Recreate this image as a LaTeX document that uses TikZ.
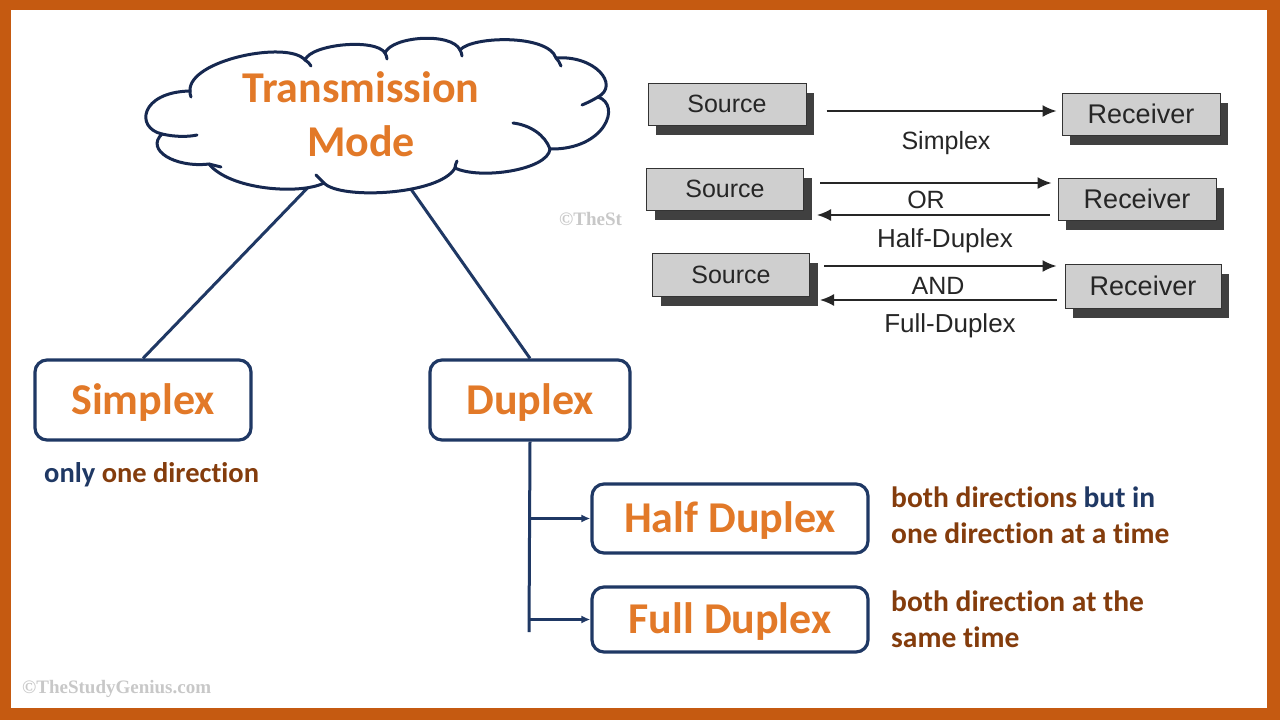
\documentclass[tikz,border=0pt]{standalone}
\usepackage{fontspec}
\setmainfont{Carlito}[Ligatures=NoCommon]
\newfontfamily\scanfont{Liberation Sans}
\newfontfamily\wmfont{Liberation Serif}
\usetikzlibrary{arrows.meta,shadows,calc}
\definecolor{framec}{RGB}{197,90,17}
\definecolor{navy}{RGB}{31,56,100}
\definecolor{cloudc}{RGB}{22,40,80}
\definecolor{orng}{RGB}{226,121,40}
\definecolor{brn}{RGB}{132,60,12}
\definecolor{wmc}{RGB}{200,200,200}
\tikzset{
  navyline/.style={draw=navy, line width=3pt},
  cloudline/.style={draw=cloudc, line width=3pt, line cap=round, line join=round},
  mbox/.style={draw=navy, line width=3.2pt, rounded corners=12pt, fill=white,
    font=\bfseries\fontsize{44}{52}\selectfont, text=orng, inner sep=0pt,
    text height=31pt, text depth=2.6pt},
  descr/.style={font=\bfseries\fontsize{29.5}{36}\selectfont, text=brn, align=left, anchor=west, inner sep=0pt},
  scanbox/.style={draw=black!80, line width=1pt, fill=black!19,
    font=\scanfont\fontsize{25}{30}\selectfont, text=black!85, inner sep=0pt,
    drop shadow={shadow xshift=8pt, shadow yshift=-10pt, fill=black!75, opacity=1}},
  scanlbl/.style={font=\scanfont\fontsize{25}{30}\selectfont, text=black!85, inner sep=0pt},
  sarrow/.style={draw=black!85, line width=1.8pt, -{Latex[length=14pt,width=12pt]}},
  narrow/.style={navyline, -{Latex[length=9pt,width=8pt]}},
  wmark/.style={font=\wmfont\bfseries\fontsize{19}{22}\selectfont, text=wmc, inner sep=0pt, anchor=west}
}
\begin{document}
\begin{tikzpicture}[x=1pt,y=-1pt]
\fill[framec] (0,0) rectangle (1280,720);
\fill[white] (11,10) rectangle (1267,708);
\useasboundingbox (0,0) rectangle (1280,720);

% main boxes
\node[mbox, minimum width=216pt, minimum height=80pt] (simplex) at (143,400) {Simplex};
\node[mbox, minimum width=200pt, minimum height=80pt] (duplex) at (530,400) {Duplex};
\node[mbox, minimum width=276pt, minimum height=69pt] (half) at (730,518.5) {Half Duplex};
\node[mbox, minimum width=276pt, minimum height=65pt] (full) at (730,619.5) {Full Duplex};

% connectors from the cloud (their upper ends are hidden under the cloud)
\coordinate (cl1) at (320,175);
\coordinate (cl2) at (401,175);
\draw[navyline] (cl1) -- (simplex.north);
\draw[navyline] (cl2) -- (duplex.north);

% cloud
\coordinate (A) at (190,91);
\coordinate (B) at (305,60);
\coordinate (C) at (385,53);
\coordinate (D) at (460,50);
\coordinate (E) at (556,58);
\coordinate (F) at (598,97);
\coordinate (G) at (550,149);
\coordinate (H) at (455,168);
\coordinate (I) at (324,183);
\coordinate (J) at (209,164);
\coordinate (K) at (162,134);
\path[cloudline, fill=white]
  (A) .. controls (188,60) and (288,40) .. (B)
      .. controls (311,44) and (376,38) .. (C)
      .. controls (392,36) and (452,32) .. (D)
      .. controls (472,36) and (548,34) .. (E)
      .. controls (595,55) and (620,85) .. (F)
      .. controls (622,105) and (605,150) .. (G)
      .. controls (548,170) and (480,180) .. (H)
      .. controls (440,195) and (340,200) .. (I)
      .. controls (300,195) and (230,190) .. (J)
      .. controls (175,168) and (145,150) .. (K)
      .. controls (135,128) and (140,92) .. (A) -- cycle;
\draw[cloudline] (A) .. controls (190,93) and (190,95) .. (191,97);
\draw[cloudline] (B) .. controls (308,62) and (310,64) .. (311,66);
\draw[cloudline] (C) .. controls (386,55) and (387,57) .. (387,59);
\draw[cloudline] (D) .. controls (461,52) and (462,54) .. (462,56);
\draw[cloudline] (E) .. controls (558,60) and (560,63) .. (561,66);
\draw[cloudline] (F) .. controls (593,100) and (587,103) .. (582,105);
\draw[cloudline] (G) .. controls (545,135) and (530,125) .. (513,123);
\draw[cloudline] (H) .. controls (455,166) and (456,163) .. (457,161);
\draw[cloudline] (I) .. controls (321,180) and (318,177) .. (316,175);
\draw[cloudline] (J) .. controls (213,165) and (217,166) .. (221,167);
\draw[cloudline] (K) .. controls (175,137) and (188,137) .. (197,135);
\node[font=\bfseries\fontsize{44}{54}\selectfont, text=orng, align=center, inner sep=0pt] (title) at (361,114) {Transmission\\Mode};

% duplex tree
\coordinate (vend) at (529,632);
\draw[navyline] (duplex.south) -- (vend);
\draw[narrow] (duplex.south |- half.west) -- (half.west);
\draw[narrow] (duplex.south |- full.west) -- (full.west);

% descriptions
\node[descr, font=\bfseries\fontsize{28.5}{34}\selectfont] (d1) at (44,475) {\textcolor{navy}{only} one direction};
\node[descr] (d2) at (891,515) {both directions \textcolor{navy}{but in}\\one direction at a time};
\node[descr] (d3) at (891,619) {both direction at the\\same time};

% scanned figure
\node[scanbox, minimum width=158pt, minimum height=42pt] (src1) at (727,104) {Source};
\node[scanbox, minimum width=158pt, minimum height=42pt, font=\scanfont\fontsize{27}{30}\selectfont] (rcv1) at (1141,114) {Receiver};
\node[scanbox, minimum width=157pt, minimum height=42pt] (src2) at (725,189) {Source};
\node[scanbox, minimum width=158pt, minimum height=42pt, font=\scanfont\fontsize{27}{30}\selectfont] (rcv2) at (1137,199) {Receiver};
\node[scanbox, minimum width=157pt, minimum height=43pt] (src3) at (731,274.5) {Source};
\node[scanbox, minimum width=156pt, minimum height=44pt, font=\scanfont\fontsize{27}{30}\selectfont] (rcv3) at (1143,286) {Receiver};

\draw[sarrow] ($(src1.east)+(20,7)$) -- ($(rcv1.west)+(-5,-3)$);
\draw[sarrow] ($(src2.east)+(16,-6)$) -- ($(rcv2.west)+(-6,-16)$);
\draw[sarrow] ($(rcv2.west)+(-8,16)$) -- ($(src2.east)+(13,26)$);
\draw[sarrow] ($(src3.east)+(14,-8.5)$) -- ($(rcv3.west)+(-8,-20)$);
\draw[sarrow] ($(rcv3.west)+(-8,14)$) -- ($(src3.east)+(10,25.5)$);

\node[scanlbl] (l1) at (946,143) {Simplex};
\node[scanlbl] (l2) at (926,200) {OR};
\node[scanlbl, font=\scanfont\fontsize{26}{30}\selectfont] (l3) at (945,241) {Half-Duplex};
\node[scanlbl] (l4) at (938,286) {AND};
\node[scanlbl, font=\scanfont\fontsize{26}{30}\selectfont] (l5) at (950,326) {Full-Duplex};

% watermarks
\node[wmark] (wm1) at (22,689) {©TheStudyGenius.com};
\node[wmark] (wm2) at (559,219) {©TheSt};
\end{tikzpicture}
\end{document}
